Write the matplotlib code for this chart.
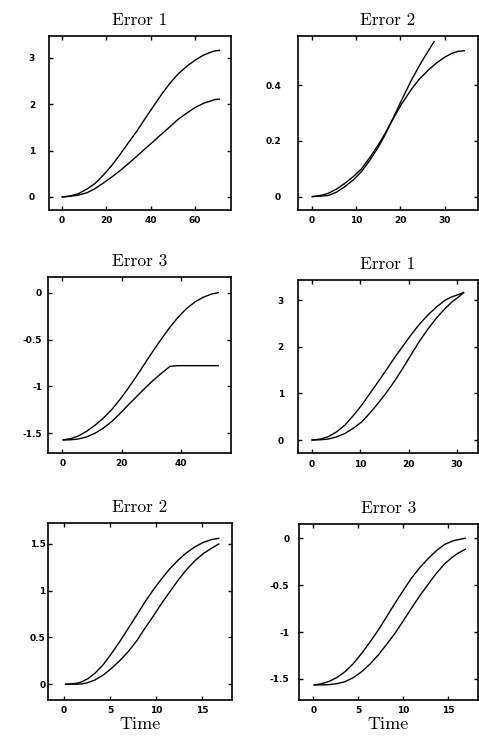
import matplotlib
matplotlib.use("Agg")
import matplotlib.pyplot as plt

# ---------------- data ----------------
titles = ["Error 1", "Error 2", "Error 3", "Error 1", "Error 2", "Error 3"]

# Panel 1 : Error 1
p1_x = [0.3, 3.7, 7.5, 11.3, 15, 18.7, 22.5, 26.3, 30, 33.8, 37.5, 41.3, 45, 48.8,
        52.5, 56.3, 60, 63.8, 67.6, 69, 70.9]
p1_y_a = [0.0, 0.02, 0.07, 0.17, 0.29, 0.47, 0.68, 0.92, 1.17, 1.42, 1.69, 1.96, 2.22,
          2.46, 2.66, 2.82, 2.95, 3.06, 3.13, 3.15, 3.16]
p1_y_b = [0.0, 0.015, 0.04, 0.09, 0.18, 0.30, 0.43, 0.57, 0.72, 0.88, 1.04, 1.20, 1.36,
          1.52, 1.68, 1.81, 1.93, 2.02, 2.08, 2.10, 2.11]

# Panel 2 : Error 2
p2_x_a = [0.15, 2.25, 3.75, 5.6, 7.5, 9.4, 11.25, 13.1, 15, 16.5, 18, 20.3, 22.5, 24.8, 27.6]
p2_y_a = [0.0, 0.002, 0.004, 0.016, 0.036, 0.06, 0.09, 0.13, 0.177, 0.22, 0.269, 0.347,
          0.418, 0.484, 0.556]
p2_x_b = [0.15, 2.25, 3.75, 5.6, 7.5, 9.4, 11.25, 13.1, 15, 16.5, 18, 20.3, 22.5, 24.1,
          26.3, 28.2, 30, 31.5, 33, 34.4]
p2_y_b = [0.0, 0.005, 0.012, 0.027, 0.048, 0.072, 0.10, 0.14, 0.185, 0.225, 0.269, 0.333,
          0.385, 0.418, 0.454, 0.48, 0.500, 0.513, 0.521, 0.523]

# Panel 3 : Error 3
p3_x_a = [0.35, 2.9, 5.4, 8.2, 11, 13.8, 16.6, 19.4, 22.2, 25, 27.8, 30.6, 33.5, 36.2,
          39, 41.8, 44.7, 47.5, 50.3, 52.5]
p3_y_a = [-1.570, -1.555, -1.528, -1.478, -1.414, -1.338, -1.248, -1.14, -1.019, -0.89,
          -0.755, -0.62, -0.488, -0.37, -0.262, -0.17, -0.098, -0.048, -0.014, 0.0]
p3_x_b = [0.35, 2.9, 5.4, 8.2, 11, 13.8, 16.6, 19.4, 22.2, 25, 27.8, 30.6, 33.5, 36.3,
          39, 45, 52.5]
p3_y_b = [-1.570, -1.568, -1.560, -1.538, -1.499, -1.445, -1.375, -1.29, -1.197, -1.108,
          -1.019, -0.935, -0.856, -0.785, -0.778, -0.778, -0.778]

# Panel 4 : Error 1
p4_x = [0, 1.7, 3.3, 5, 6.8, 8.5, 10.3, 12, 13.7, 15.5, 17.2, 19, 20.7, 22.4, 24.1,
        25.9, 27.6, 29, 30.4, 31.4]
p4_y_a = [0.0, 0.02, 0.07, 0.17, 0.32, 0.52, 0.75, 1.0, 1.25, 1.52, 1.78, 2.04, 2.28,
          2.50, 2.69, 2.86, 3.00, 3.07, 3.12, 3.16]
p4_y_b = [0.0, 0.005, 0.02, 0.065, 0.14, 0.25, 0.39, 0.58, 0.79, 1.03, 1.28, 1.57, 1.86,
          2.14, 2.39, 2.63, 2.82, 2.96, 3.07, 3.16]

# Panel 5 : Error 2
p5_x = [0.18, 1.37, 1.9, 2.6, 3.36, 4.27, 5.17, 6.08, 6.98, 7.9, 8.78, 9.7, 10.6, 11.5,
        12.4, 13.3, 14.2, 15.1, 16.0, 16.8]
p5_y_a = [0.0, 0.01, 0.025, 0.06, 0.117, 0.21, 0.331, 0.46, 0.598, 0.74, 0.878, 1.01,
          1.128, 1.235, 1.328, 1.405, 1.468, 1.515, 1.546, 1.56]
p5_y_b = [0.0, 0.001, 0.003, 0.018, 0.046, 0.10, 0.171, 0.255, 0.35, 0.465, 0.598, 0.73,
          0.865, 0.99, 1.114, 1.225, 1.32, 1.395, 1.453, 1.499]

# Panel 6 : Error 3
p6_x_a = [0.11, 0.9, 1.67, 2.6, 3.52, 4.45, 5.37, 6.3, 7.22, 8.15, 9.07, 10, 10.9, 11.85,
          12.8, 13.7, 14.6, 15.6, 16.5, 16.9]
p6_y_a = [-1.564, -1.55, -1.529, -1.485, -1.422, -1.335, -1.226, -1.105, -0.978, -0.835,
          -0.693, -0.555, -0.426, -0.31, -0.213, -0.13, -0.065, -0.025, -0.007, 0.0]
p6_x_b = [0.11, 0.9, 1.67, 2.6, 3.52, 4.45, 5.37, 6.3, 7.22, 8.15, 9.07, 10, 10.9, 11.85,
          12.8, 13.7, 14.6, 15.4, 16.1, 16.9]
p6_y_b = [-1.564, -1.563, -1.561, -1.55, -1.529, -1.485, -1.422, -1.34, -1.244, -1.13,
          -1.013, -0.88, -0.746, -0.61, -0.485, -0.37, -0.272, -0.205, -0.158, -0.117]

# tick values / labels
p1_xt = [0, 20, 40, 60]; p1_xl = ["0", "20", "40", "60"]
p1_yt = [0, 1, 2, 3];    p1_yl = ["0", "1", "2", "3"]
p2_xt = [0, 10, 20, 30]; p2_xl = ["0", "10", "20", "30"]
p2_yt = [0, 0.2, 0.4];   p2_yl = ["0", "0.2", "0.4"]
p3_xt = [0, 20, 40];     p3_xl = ["0", "20", "40"]
p3_yt = [0, -0.5, -1, -1.5]; p3_yl = ["0", "-0.5", "-1", "-1.5"]
p4_xt = [0, 10, 20, 30]; p4_xl = ["0", "10", "20", "30"]
p4_yt = [0, 1, 2, 3];    p4_yl = ["0", "1", "2", "3"]
p5_xt = [0, 5, 10, 15];  p5_xl = ["0", "5", "10", "15"]
p5_yt = [0, 0.5, 1, 1.5]; p5_yl = ["0", "0.5", "1", "1.5"]
p6_xt = [0, 5, 10, 15];  p6_xl = ["0", "5", "10", "15"]
p6_yt = [0, -0.5, -1, -1.5]; p6_yl = ["0", "-0.5", "-1", "-1.5"]

# ---------------- layout ----------------
W, H = 479, 738
fig = plt.figure(figsize=(W / 100, H / 100), dpi=100)

def box(l, r, t, b):
    return [l / W, (H - b) / H, (r - l) / W, (b - t) / H]

panels = [
    dict(rect=box(49, 231, 36, 209.5), xlim=(-5.7, 76.1), ylim=(-0.27, 3.47),
         series=[(p1_x, p1_y_a), (p1_x, p1_y_b)], xt=(p1_xt, p1_xl), yt=(p1_yt, p1_yl), ypad=10),
    dict(rect=box(297.7, 478, 36, 210), xlim=(-3.15, 37.5), ylim=(-0.048, 0.576),
         series=[(p2_x_a, p2_y_a), (p2_x_b, p2_y_b)], xt=(p2_xt, p2_xl), yt=(p2_yt, p2_yl), ypad=12),
    dict(rect=box(47.7, 230.7, 277.3, 452.7), xlim=(-4.9, 56.7), ylim=(-1.706, 0.164),
         series=[(p3_x_a, p3_y_a), (p3_x_b, p3_y_b)], xt=(p3_xt, p3_xl), yt=(p3_yt, p3_yl), ypad=4),
    dict(rect=box(297.7, 478, 280, 453.3), xlim=(-3.0, 34.4), ylim=(-0.285, 3.43),
         series=[(p4_x, p4_y_a), (p4_x, p4_y_b)], xt=(p4_xt, p4_xl), yt=(p4_yt, p4_yl), ypad=10),
    dict(rect=box(48.3, 231.7, 523.3, 700), xlim=(-1.7, 18.2), ylim=(-0.168, 1.72),
         series=[(p5_x, p5_y_a), (p5_x, p5_y_b)], xt=(p5_xt, p5_xl), yt=(p5_yt, p5_yl), ypad=2),
    dict(rect=box(299, 478, 524, 700), xlim=(-1.6, 18.3), ylim=(-1.724, 0.152),
         series=[(p6_x_a, p6_y_a), (p6_x_b, p6_y_b)], xt=(p6_xt, p6_xl), yt=(p6_yt, p6_yl), ypad=7),
]

tick_font = dict(family="DejaVu Sans", weight="bold", size=6.5)

for i, p in enumerate(panels):
    ax = fig.add_axes(p["rect"])
    for xs, ys in p["series"]:
        ax.plot(xs, ys, color="black", lw=1.0, solid_joinstyle="round")
    ax.set_xlim(*p["xlim"])
    ax.set_ylim(*p["ylim"])
    ax.set_xticks(p["xt"][0], p["xt"][1], fontdict=tick_font)
    ax.set_yticks(p["yt"][0], p["yt"][1], fontdict=tick_font)
    ax.tick_params(direction="in", length=3, width=1.0, top=True, right=True, color="black")
    ax.tick_params(axis="x", pad=4.5)
    ax.tick_params(axis="y", pad=p["ypad"])
    for s in ax.spines.values():
        s.set_linewidth(1.2)
        s.set_color("black")
    ax.set_title(titles[i], fontname="cmr10", fontsize=12.5, pad=8)
    if i >= 4:
        ax.set_xlabel("Time", fontname="cmr10", fontsize=13, labelpad=1)

fig.savefig("out.png", dpi=100, facecolor="white")
